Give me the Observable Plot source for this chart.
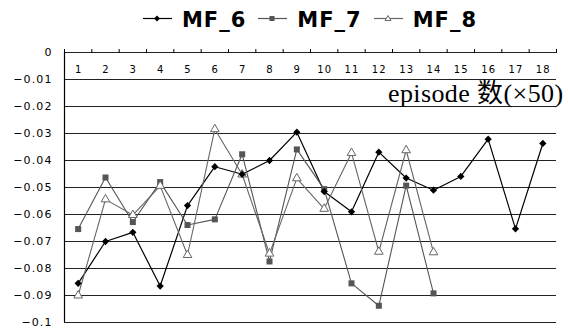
<!DOCTYPE html>
<html>
<head>
<meta charset="utf-8">
<script src="https://cdn.jsdelivr.net/npm/d3@7"></script>
<script src="https://cdn.jsdelivr.net/npm/@observablehq/plot@0.6"></script>
<style>
  html, body { margin: 0; padding: 0; background: #fff; }
  #legend { height: 36px; display: flex; align-items: center; justify-content: center;
            padding-left: 64px; padding-right: 12px; box-sizing: border-box; width: 568px; }
  .item { display: flex; align-items: center; margin: 0 6px; }
  .item svg { margin-right: 10px; }
  .item span { font-family: "DejaVu Sans", sans-serif; font-weight: bold; font-size: 21px;
               letter-spacing: 1px; color: #000; line-height: 22px; padding-top: 4px; }
</style>
</head>
<body>
<div id="legend"></div>
<div id="chart"></div>
<script>
const categories = [1,2,3,4,5,6,7,8,9,10,11,12,13,14,15,16,17,18];
const mf6 = [-0.0855,-0.0700,-0.0666,-0.0865,-0.0567,-0.0423,-0.0451,-0.0400,-0.0295,-0.0515,-0.0590,-0.0369,-0.0465,-0.0510,-0.0459,-0.0321,-0.0653,-0.0337];
const mf7 = [-0.0654,-0.0463,-0.0628,-0.0480,-0.0639,-0.0618,-0.0377,-0.0774,-0.0359,-0.0506,-0.0855,-0.0938,-0.0493,-0.0892];
const mf8 = [-0.0900,-0.0544,-0.0602,-0.0494,-0.0750,-0.0284,-0.0452,-0.0745,-0.0466,-0.0579,-0.0372,-0.0738,-0.0362,-0.0740];
const seriesNames = ["MF_6","MF_7","MF_8"];
const yTicks = [0,-0.01,-0.02,-0.03,-0.04,-0.05,-0.06,-0.07,-0.08,-0.09,-0.1];
const xLabel = "episode 数(×50)";

const rows = (vals) => vals.map((v, i) => ({x: categories[i], y: v}));
const d6 = rows(mf6), d7 = rows(mf7), d8 = rows(mf8);
const boundaries = d3.range(categories.length + 1).map(i => categories[0] - 0.5 + i);

// legend
const styles = [
  {stroke: "#000", fill: "#000", sym: "diamond"},
  {stroke: "#555", fill: "#555", sym: "square"},
  {stroke: "#666", fill: "#fff", sym: "triangle"}
];
const legend = document.getElementById("legend");
seriesNames.forEach((name, i) => {
  const s = styles[i];
  let marker = "";
  if (s.sym === "diamond") marker = `<path d="M14,8.5 L17,11.5 L14,14.5 L11,11.5 Z" fill="${s.fill}"/>`;
  if (s.sym === "square") marker = `<rect x="11.5" y="9" width="5" height="5" fill="${s.fill}"/>`;
  if (s.sym === "triangle") marker = `<path d="M14,8.5 L17,13.5 L11,13.5 Z" fill="${s.fill}" stroke="${s.stroke}" stroke-width="1"/>`;
  const el = document.createElement("div");
  el.className = "item";
  el.innerHTML = `<svg width="29" height="22"><line x1="0" x2="29" y1="11.5" y2="11.5" stroke="${s.stroke}" stroke-width="1.2"/>${marker}</svg><span>${name}</span>`;
  legend.appendChild(el);
});

const chart = Plot.plot({
  width: 568,
  height: 293,
  marginTop: 16,
  marginBottom: 7,
  marginLeft: 64,
  marginRight: 12,
  style: {fontFamily: "'DejaVu Sans', sans-serif", fontSize: "11px", letterSpacing: "1.1px", color: "#000", background: "#fff"},
  x: {type: "linear", domain: [categories[0] - 0.5, categories[categories.length - 1] + 0.5]},
  y: {domain: [-0.1, 0]},
  marks: [
    Plot.gridY(yTicks, {stroke: "#222", strokeOpacity: 1, strokeWidth: 1}),
    Plot.ruleX([boundaries[0]], {stroke: "#000", strokeWidth: 1.2}),
    Plot.axisX({anchor: "top", ticks: boundaries, tickSize: 4, tickFormat: () => "", label: null, stroke: "#000"}),
    Plot.text(categories, {x: d => d, frameAnchor: "top", lineAnchor: "middle", dy: 17, dx: 0.5, text: d => String(d), fontSize: 10}),
    Plot.axisY({ticks: yTicks, tickSize: 0, tickPadding: 12, tickFormat: d3.format(".2~f"), label: null, fontSize: 11}),
    Plot.text([xLabel], {text: d => d, frameAnchor: "top-right", textAnchor: "end", lineAnchor: "bottom", dx: 7, dy: 49,
      fontSize: 26, fontFamily: "'Liberation Serif', 'Times New Roman', 'Noto Sans CJK SC', serif", fill: "#000", className: "xlab"}),
    Plot.line(d6, {x: "x", y: "y", stroke: "#000", strokeWidth: 1.2}),
    Plot.line(d7, {x: "x", y: "y", stroke: "#555", strokeWidth: 1.1}),
    Plot.line(d8, {x: "x", y: "y", stroke: "#666", strokeWidth: 1.1}),
    Plot.dot(d7, {x: "x", y: "y", symbol: "square", r: 3.4, fill: "#555", stroke: "none"}),
    Plot.dot(d8, {x: "x", y: "y", symbol: "triangle", r: 3.2, fill: "#fff", stroke: "#666", strokeWidth: 1}),
    Plot.dot(d6, {x: "x", y: "y", symbol: "square", rotate: 45, r: 2.9, fill: "#000", stroke: "none"})
  ]
});
chart.querySelectorAll("[class*=xlab]").forEach(g => g.style.letterSpacing = "0.4px");
document.getElementById("chart").appendChild(chart);
</script>
</body>
</html>
